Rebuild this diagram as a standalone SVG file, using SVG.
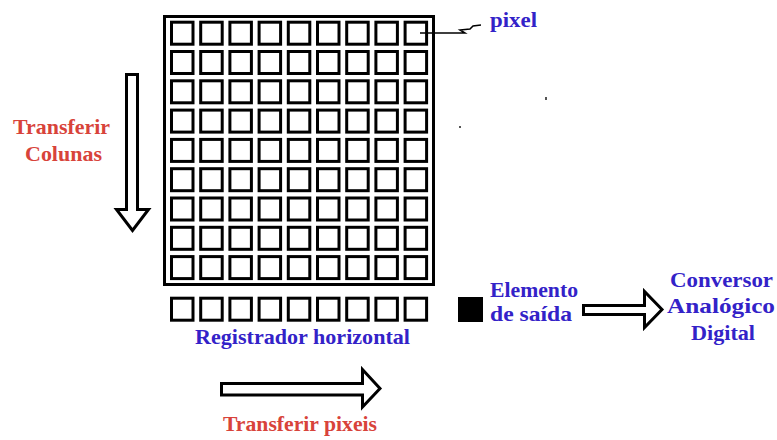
<svg xmlns="http://www.w3.org/2000/svg" width="777" height="440" viewBox="0 0 777 440">
<defs>
<style>
.cell{fill:#fff;stroke:#000;stroke-width:3}
.frame{fill:none;stroke:#000;stroke-width:3}
.arrow{fill:#fff;stroke:#000;stroke-width:3;stroke-linejoin:miter}
.blue{font-family:"Liberation Serif",serif;font-weight:bold;fill:#3322c8;font-size:22px}
.red{font-family:"Liberation Serif",serif;font-weight:bold;fill:#d8433a;font-size:22px}
</style>
<rect id="c" class="cell" width="21.5" height="22"/>
<g id="row">
<use href="#c" x="0"/><use href="#c" x="29.2"/><use href="#c" x="58.4"/><use href="#c" x="87.6"/><use href="#c" x="116.8"/><use href="#c" x="146"/><use href="#c" x="175.2"/><use href="#c" x="204.4"/><use href="#c" x="233.6"/>
</g>
</defs>
<rect width="777" height="440" fill="#fff"/>
<g id="ccd-array">
<rect class="frame" x="164.5" y="16.5" width="269" height="268"/>
<use href="#row" x="171.5" y="22.2"/>
<use href="#row" x="171.5" y="51.5"/>
<use href="#row" x="171.5" y="80.8"/>
<use href="#row" x="171.5" y="110.1"/>
<use href="#row" x="171.5" y="139.4"/>
<use href="#row" x="171.5" y="168.7"/>
<use href="#row" x="171.5" y="198"/>
<use href="#row" x="171.5" y="227.3"/>
<use href="#row" x="171.5" y="256.6"/>
</g>
<g id="registrador">
<use href="#row" x="171.5" y="298.2"/>
<text class="blue" x="195" y="344" textLength="215" lengthAdjust="spacingAndGlyphs">Registrador horizontal</text>
</g>
<g id="pixel-label">
<text class="blue" x="490" y="27" textLength="47" lengthAdjust="spacingAndGlyphs">pixel</text>
</g>
<g id="saida">
<rect x="458" y="297" width="25" height="25" fill="#000"/>
<text class="blue" x="490" y="297" textLength="88" lengthAdjust="spacingAndGlyphs">Elemento</text>
<text class="blue" x="490" y="321" textLength="82" lengthAdjust="spacingAndGlyphs">de saída</text>
</g>
<g id="conversor">
<text class="blue" x="670" y="287" textLength="103" lengthAdjust="spacingAndGlyphs">Conversor</text>
<text class="blue" x="667" y="313" textLength="108" lengthAdjust="spacingAndGlyphs">Analógico</text>
<text class="blue" x="691" y="340" textLength="64" lengthAdjust="spacingAndGlyphs">Digital</text>
</g>
<g id="transferir-colunas">
<text class="red" x="13" y="134" textLength="97" lengthAdjust="spacingAndGlyphs">Transferir</text>
<text class="red" x="25" y="161" textLength="77" lengthAdjust="spacingAndGlyphs">Colunas</text>
</g>
<g id="transferir-pixeis">
<text class="red" x="223" y="431" textLength="154" lengthAdjust="spacingAndGlyphs">Transferir pixeis</text>
</g>
<g id="connectors">
<polyline points="420,33 465,33 460,30 470,29 473,26 481,25" fill="none" stroke="#000" stroke-width="1.5"/>
<polygon class="arrow" points="126.5,74.5 137.5,74.5 137.5,209.5 148.5,209.5 132.5,230.5 116.5,209.5 126.5,209.5"/>
<polygon class="arrow" points="583.5,305.5 644.5,305.5 644.5,291.5 662,309.5 644.5,327.5 644.5,314.5 583.5,314.5"/>
<polygon class="arrow" points="221.5,383.5 362.5,383.5 362.5,369.5 380,388.5 362.5,407 362.5,395 221.5,395"/>
</g>
<rect x="545" y="97" width="2" height="3" fill="#555"/>
<rect x="459" y="126" width="2" height="2" fill="#555"/>
</svg>
